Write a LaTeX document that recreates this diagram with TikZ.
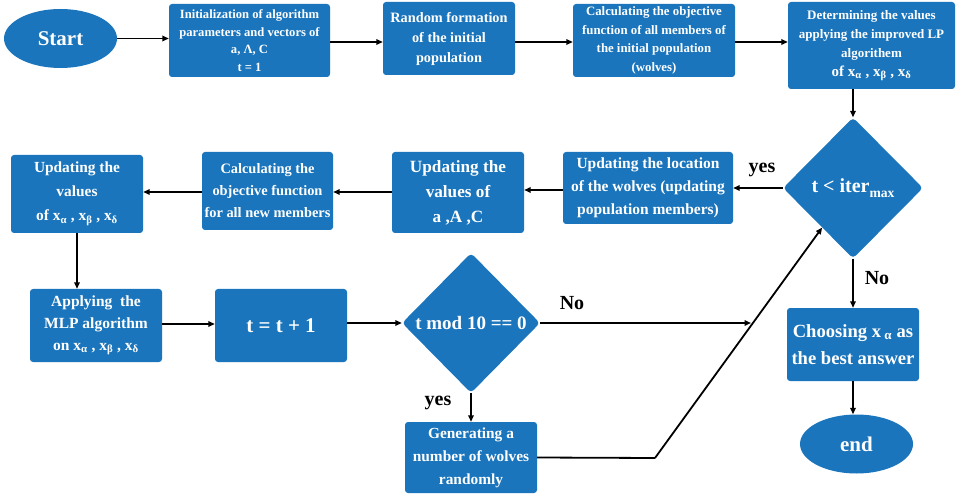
\documentclass[tikz,border=0pt]{standalone}
\usepackage{fontspec}
\setmainfont{Liberation Serif}
\usetikzlibrary{arrows.meta,shapes.geometric,calc}
\definecolor{myblue}{RGB}{26,117,188}
\newcommand\fs[2]{\fontsize{#1}{#2}\selectfont\bfseries}
\newcommand\xs[1]{x\textsubscript{#1}}
\begin{document}
\begin{tikzpicture}[x=1pt,y=-1pt,
  box/.style={fill=myblue, rounded corners=3pt, text=white, align=center, inner sep=1pt},
  oval/.style={ellipse, fill=myblue, text=white, inner sep=0pt, minimum width=113pt, minimum height=59pt, font=\fs{21}{25}},
  dia/.style={diamond, fill=myblue, rounded corners=4pt, text=white, inner sep=0pt, align=center},
  arr/.style={-{Triangle[length=6.5pt,width=5.5pt]}, line width=1.8pt, black},
  lnk/.style={line width=1.8pt, black},
  lab/.style={font=\fs{20}{24}, text=black}]
\useasboundingbox (0,0) rectangle (958,494);

\node[oval] (start) at (60.5,38.5) {Start};
\node[box, minimum width=161pt, minimum height=73pt, font=\fs{12.6}{17.5}] (init) at (249.5,40.5)
  {Initialization of algorithm\\parameters and vectors of\\a, Λ, C\\t = 1};
\node[box, minimum width=132pt, minimum height=73pt, font=\fs{14.3}{20}] (rand) at (449,38.5)
  {Random formation\\of the initial\\population};
\node[box, minimum width=162pt, minimum height=73pt, font=\fs{12.8}{18.5}] (calc) at (654,40.5)
  {Calculating the objective\\function of all members of\\the initial population\\(wolves)};
\node[box, minimum width=167pt, minimum height=87pt, font=\fs{13}{19}] (det) at (871.5,45.5)
  {Determining the values\\applying the improved LP\\algorithem\\{\fontsize{15}{19}\selectfont of \xs{α} , \xs{β} , \xs{δ}}};

\node[dia, minimum width=140pt, minimum height=141pt, font=\fs{20}{24}] (dmax) at (853,188)
  {t < iter\raisebox{-5pt}{\fontsize{13.6}{16}\selectfont max}};
\node[box, minimum width=170pt, minimum height=72pt, font=\fs{15.5}{23}] (loc) at (648,188)
  {Updating the location\\of the wolves (updating\\population members)};
\node[box, minimum width=132pt, minimum height=81pt, font=\fs{17.2}{25}] (upd) at (458,192.5)
  {Updating the\\values of\\a ,A ,C};
\node[box, minimum width=131pt, minimum height=78pt, font=\fs{14.4}{22}] (cnew) at (267.5,191)
  {Calculating the\\objective function\\for all new members};
\node[box, minimum width=132pt, minimum height=78pt, font=\fs{15.4}{24}] (upx) at (77,194)
  {Updating the\\values\\of \xs{α} , \xs{β} , \xs{δ}};

\node[box, minimum width=132pt, minimum height=73pt, font=\fs{15.5}{21.7}] (mlp) at (96,325.5)
  {Applying\ \ the\\MLP algorithm\\on \xs{α} , \xs{β} , \xs{δ}};
\node[box, minimum width=132pt, minimum height=73pt, font=\fs{21}{25}] (tinc) at (281,325.5)
  {t = t + 1};
\node[dia, minimum width=138pt, minimum height=140pt, font=\fs{19}{23}] (mod) at (471,323)
  {t mod 10 == 0};
\node[box, minimum width=132pt, minimum height=71pt, font=\fs{15.4}{23}] (gen) at (471,457.5)
  {Generating a\\number of wolves\\randomly};
\node[box, minimum width=132pt, minimum height=73pt, font=\fs{18.6}{27}] (choose) at (853,344.5)
  {Choosing x\,\textsubscript{α} as\\the best answer};
\node[oval] (end) at (856.5,444) {end};

\coordinate (bend) at (655,458);
\coordinate (tgt) at ($(dmax.west)!0.56!(dmax.south)$);
\coordinate (nohit) at (751,323);

\draw[arr] (start.east) -- (start.east -| init.west);
\draw[arr] (init.east |- 0,42) -- (rand.west |- 0,42);
\draw[arr] (rand.east |- 0,42) -- (calc.west |- 0,42);
\draw[arr] (calc.east |- 0,42) -- (det.west |- 0,42);
\draw[arr] (dmax.north |- det.south) -- (dmax.north);
\draw[arr] (dmax.west) -- (dmax.west -| loc.east);
\node[lab] (yes1) at (762,170) {yes};
\draw[arr] (loc.west |- 0,190) -- (upd.east |- 0,190);
\draw[arr] (upd.west |- 0,192) -- (cnew.east |- 0,192);
\draw[arr] (cnew.west |- 0,192) -- (upx.east |- 0,192);
\draw[arr] (upx.south) -- (upx.south |- mlp.north);
\draw[arr] (mlp.east |- 0,324) -- (tinc.west |- 0,324);
\draw[arr] (mod.west -| tinc.east) -- (mod.west);
\draw[arr] (mod.south) -- (gen.north);
\node[lab] (yes2) at (438,403) {yes};
\draw[arr] (mod.east) -- (nohit);
\node[lab] (no1) at (572,303) {No};
\draw[lnk] (gen.east) -- (bend);
\draw[arr] (bend) -- (tgt);
\draw[arr] (dmax.south) -- (choose.north);
\node[lab] (no2) at (877,278) {No};
\draw[arr] (choose.south) -- (choose.south |- end.north);
\end{tikzpicture}
\end{document}
